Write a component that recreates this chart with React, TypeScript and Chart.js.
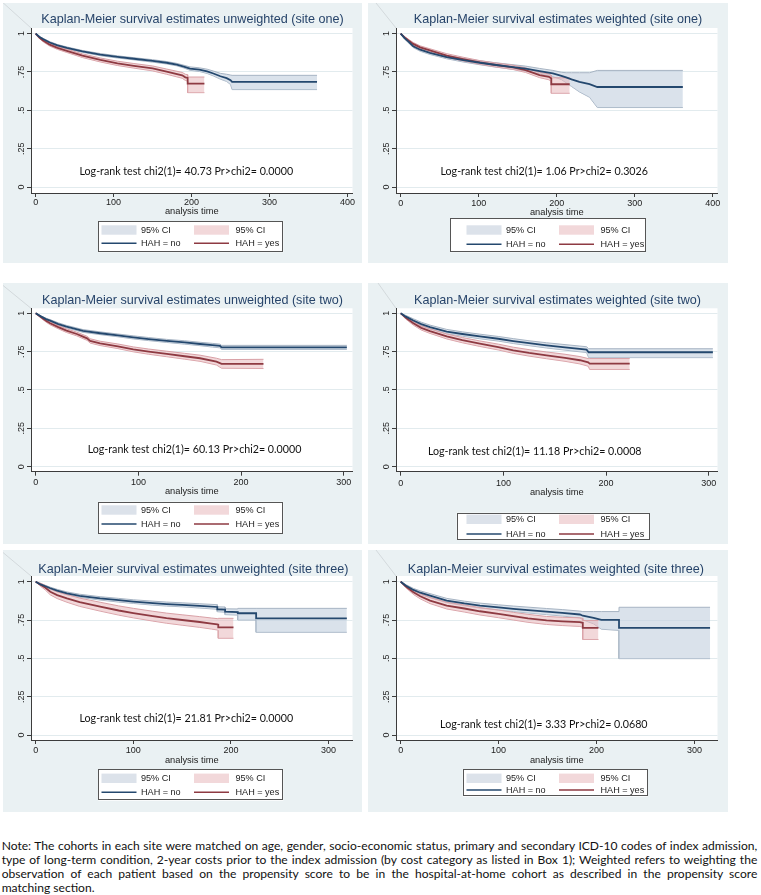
import React, { useEffect, useMemo, useRef } from 'react';
import { Chart, registerables } from 'chart.js';

Chart.register(...registerables);

// ---------------- text ----------------
const panelTitles = [
  'Kaplan-Meier survival estimates unweighted (site one)',
  'Kaplan-Meier survival estimates weighted (site one)',
  'Kaplan-Meier survival estimates unweighted (site two)',
  'Kaplan-Meier survival estimates weighted (site two)',
  'Kaplan-Meier survival estimates unweighted (site three)',
  'Kaplan-Meier survival estimates weighted (site three)',
];
const logRankTexts = [
  'Log-rank test chi2(1)= 40.73 Pr>chi2= 0.0000',
  'Log-rank test chi2(1)= 1.06 Pr>chi2= 0.3026',
  'Log-rank test chi2(1)= 60.13 Pr>chi2= 0.0000',
  'Log-rank test chi2(1)= 11.18 Pr>chi2= 0.0008',
  'Log-rank test chi2(1)= 21.81 Pr>chi2= 0.0000',
  'Log-rank test chi2(1)= 3.33 Pr>chi2= 0.0680',
];
const seriesLabels = ['HAH = no', 'HAH = yes'];
const ciLabel = '95% CI';
const xAxisTitle = 'analysis time';
const xTicksSiteOne = [0, 100, 200, 300, 400];
const xTicksOther = [0, 100, 200, 300];
const yTickValues = [0, 0.25, 0.5, 0.75, 1];
const yTickLabels = ['0', '.25', '.5', '.75', '1'];
const noteLines = [
  'Note: The cohorts in each site were matched on age, gender, socio-economic status, primary and secondary ICD-10 codes of index admission,',
  'type of long-term condition, 2-year costs prior to the index admission (by cost category as listed in Box 1); Weighted refers to weighting the',
  'observation of each patient based on the propensity score to be in the hospital-at-home cohort as described in the propensity score',
  'matching section.',
];

// ---------------- data: panel 1 (unweighted, site one) ----------------
const p1NoT = [0, 5, 10, 18, 28, 40, 60, 83, 105, 126, 150, 168, 181, 190, 198, 210, 220, 228, 237, 245, 250, 252, 361];
const p1NoS = [1, .978, .963, .942, .923, .907, .884, .863, .848, .836, .822, .81, .798, .785, .772, .765, .754, .74, .722, .71, .696, .685, .685];
const p1NoLo = [1, .974, .958, .936, .917, .901, .878, .856, .841, .829, .814, .802, .79, .776, .761, .753, .74, .724, .703, .688, .668, .635, .635];
const p1NoHi = [1, .982, .968, .948, .929, .913, .89, .87, .855, .843, .83, .818, .806, .794, .783, .777, .768, .756, .741, .735, .73, .728, .728];
const p1YesT = [0, 5, 10, 18, 28, 40, 60, 83, 105, 126, 150, 168, 188, 192, 195, 195, 216.5];
const p1YesS = [1, .973, .953, .928, .907, .888, .856, .828, .806, .79, .773, .752, .728, .715, .711, .674, .674];
const p1YesLo = [1, .967, .945, .919, .897, .877, .844, .815, .792, .775, .757, .735, .709, .695, .69, .615, .615];
const p1YesHi = [1, .979, .961, .937, .917, .899, .868, .841, .82, .805, .789, .769, .747, .735, .732, .717, .717];

// ---------------- data: panel 2 (weighted, site one) ----------------
const p2NoT = [0, 5, 10, 16, 25, 37.5, 59, 80, 101.5, 120, 144, 160, 178, 195, 206, 212, 219, 229, 242, 252, 361.6];
const p2NoS = [1, .97, .948, .918, .895, .875, .847, .827, .81, .797, .782, .772, .756, .74, .725, .715, .702, .685, .67, .652, .652];
const p2NoLo = [1, .963, .94, .909, .885, .864, .836, .815, .797, .783, .767, .756, .739, .72, .7, .68, .655, .62, .585, .518, .518];
const p2NoHi = [1, .977, .956, .927, .905, .886, .858, .839, .823, .811, .797, .788, .773, .76, .748, .745, .745, .745, .745, .76, .76];
const p2YesT = [0, 5, 10, 16, 25, 37.5, 59, 80, 101.5, 120, 144, 160, 178, 190, 193, 193, 216.6];
const p2YesS = [1, .975, .955, .933, .91, .89, .857, .834, .812, .797, .78, .762, .73, .718, .708, .67, .67];
const p2YesLo = [1, .969, .947, .924, .9, .879, .845, .822, .8, .784, .766, .747, .713, .699, .688, .611, .611];
const p2YesHi = [1, .981, .963, .942, .92, .901, .869, .846, .824, .81, .794, .777, .747, .737, .728, .712, .712];

// ---------------- data: panel 3 (unweighted, site two) ----------------
const p3NoT = [0, 5, 10, 14, 22, 30, 46, 62.7, 80, 95, 110, 127.6, 145, 160, 172, 179.5, 181, 303];
const p3NoS = [1, .98, .962, .952, .93, .913, .885, .87, .856, .843, .832, .82, .81, .8, .792, .787, .778, .778];
const p3NoLo = [1, .976, .956, .945, .922, .905, .876, .861, .847, .833, .822, .81, .799, .789, .78, .775, .765, .765];
const p3NoHi = [1, .984, .968, .959, .938, .921, .894, .879, .865, .853, .842, .83, .821, .811, .804, .799, .791, .791];
const p3YesT = [0, 5, 10, 14, 22, 30, 40, 46, 50, 53, 62.7, 80, 95, 110, 127.6, 145, 160, 176, 181, 221.8];
const p3YesS = [1, .975, .952, .935, .91, .887, .865, .848, .837, .82, .804, .785, .765, .75, .735, .72, .707, .685, .67, .67];
const p3YesLo = [1, .969, .943, .925, .899, .875, .853, .835, .824, .806, .79, .77, .749, .733, .717, .701, .687, .663, .642, .64];
const p3YesHi = [1, .981, .961, .945, .921, .899, .877, .861, .85, .834, .818, .8, .781, .767, .753, .739, .727, .707, .698, .7];

// ---------------- data: panel 4 (weighted, site two) ----------------
const p4NoT = [0, 5, 12.3, 20, 28.5, 44.8, 60, 77, 95, 109.6, 125, 142, 160, 181, 183, 304];
const p4NoS = [1, .978, .953, .93, .91, .881, .865, .849, .834, .819, .805, .791, .778, .763, .746, .746];
const p4NoLo = [1, .97, .942, .918, .897, .867, .851, .834, .819, .803, .789, .774, .76, .744, .711, .711];
const p4NoHi = [1, .986, .964, .942, .923, .895, .879, .864, .849, .835, .821, .808, .796, .782, .769, .769];
const p4YesT = [0, 5, 12.3, 20, 28.5, 44.8, 60, 77, 95, 109.6, 125, 142, 160, 174.5, 182.6, 184, 223];
const p4YesS = [1, .97, .935, .905, .884, .849, .825, .802, .78, .759, .742, .726, .71, .694, .68, .672, .672];
const p4YesLo = [1, .962, .923, .891, .869, .833, .808, .784, .761, .739, .721, .704, .687, .67, .655, .634, .634];
const p4YesHi = [1, .978, .947, .919, .899, .865, .842, .82, .799, .779, .763, .748, .733, .718, .705, .705, .705];

// ---------------- data: panel 5 (unweighted, site three) ----------------
const p5NoT = [0, 5, 10, 15, 22, 32, 45, 66, 85, 100, 120, 134, 150, 168, 186, 186, 194, 194, 207, 207, 225.8, 225.8, 318.7];
const p5NoS = [1, .982, .97, .957, .942, .924, .908, .891, .879, .87, .86, .854, .849, .842, .835, .82, .818, .804, .802, .794, .794, .761, .761];
const p5NoLo = [1, .977, .964, .95, .934, .915, .898, .88, .867, .858, .847, .841, .836, .828, .82, .804, .801, .785, .782, .75, .75, .67, .67];
const p5NoHi = [1, .987, .976, .964, .95, .933, .918, .902, .891, .882, .873, .867, .862, .856, .85, .836, .835, .823, .822, .826, .826, .826, .826];
const p5YesT = [0, 5, 10, 15, 22, 32, 45, 66, 85, 100, 120, 134, 150, 168, 180, 186, 187, 187, 202.6];
const p5YesS = [1, .98, .96, .934, .912, .891, .866, .837, .812, .795, .775, .762, .75, .737, .727, .722, .72, .702, .702];
const p5YesLo = [1, .97, .945, .914, .89, .866, .839, .808, .782, .764, .743, .729, .716, .702, .691, .685, .682, .631, .631];
const p5YesHi = [1, .99, .975, .954, .934, .916, .893, .866, .842, .826, .807, .795, .784, .772, .763, .759, .758, .761, .761];

// ---------------- data: panel 6 (weighted, site three) ----------------
const p6NoT = [0, 5, 13, 20, 30, 47, 65, 81, 100, 115, 130, 149, 165, 183, 186, 197, 205, 223, 223, 316];
const p6NoS = [1, .975, .946, .928, .909, .877, .858, .844, .832, .823, .815, .805, .797, .786, .778, .764, .751, .751, .699, .699];
const p6NoLo = [1, .968, .936, .916, .896, .863, .843, .828, .815, .805, .796, .785, .776, .764, .751, .725, .69, .682, .498, .498];
const p6NoHi = [1, .982, .956, .94, .922, .891, .873, .86, .849, .841, .834, .825, .818, .808, .805, .805, .805, .805, .833, .833];
const p6YesT = [0, 5, 13, 20, 30, 47, 65, 81, 100, 115, 130, 149, 165, 183, 186, 186, 202];
const p6YesS = [1, .97, .931, .905, .877, .844, .825, .807, .79, .775, .761, .747, .741, .736, .732, .699, .699];
const p6YesLo = [1, .962, .917, .888, .857, .822, .802, .783, .765, .75, .735, .721, .714, .708, .703, .623, .623];
const p6YesHi = [1, .978, .945, .922, .897, .866, .848, .831, .815, .8, .787, .773, .768, .764, .761, .747, .747];

// ---------------- styles ----------------
const PANEL_BG = '#eaf1f3';
const GRID = '#e2ebee';
const AXIS = '#3c3c3c';
const TITLE = '#27446a';
const NAVY = '#24486e';
const MAROON = '#8e3a42';
const BLUE_FILL = 'rgba(196,208,222,0.62)';
const BLUE_EDGE = '#a7b4c3';
const RED_FILL = 'rgba(232,184,188,0.55)';
const RED_EDGE = '#d9a1a7';
const BLUE_SWATCH = '#dce2ea';
const RED_SWATCH = '#f2d8da';
const SANS = '"Liberation Sans", Arial, sans-serif';
const NOTE_FONT = 'Lato, "Open Sans", sans-serif';
const PLOT_LEFT = 28;
const PLOT_RIGHT = 349.5;

type Curve = { t: number[]; s: number[]; lo: number[]; hi: number[] };
type Layout = {
  left: number; top: number; w: number; h: number;
  xMin: number; xMax: number; yMin: number; yMax: number;
  plotTop: number; plotBottom: number;
  titleX: number; titleY: number; tickLabelY: number; axisTitleY: number;
  logX: number; logY: number; diag: [number, number];
  lg: { x: number; y: number; w: number; h: number; r1: number; r2: number };
};
type PanelSpec = { title: string; logRank: string; xTicks: number[]; no: Curve; yes: Curve; layout: Layout };

const LAYOUTS: Layout[] = [
  { left: 3, top: 3, w: 359, h: 260, xMin: -6, xMax: 406.5, yMin: -0.039, yMax: 1.0365, plotTop: 25, plotBottom: 190,
    titleX: 189.5, titleY: 17, tickLabelY: 199.3, axisTitleY: 208.7, logX: 183.3, logY: 168.7, diag: [-3, -3],
    lg: { x: 95.3, y: 218, w: 185, h: 31.3, r1: 227, r2: 240.3 } },
  { left: 368, top: 3, w: 360, h: 260, xMin: -6, xMax: 406, yMin: -0.039, yMax: 1.0365, plotTop: 25, plotBottom: 190,
    titleX: 190, titleY: 17, tickLabelY: 200.3, axisTitleY: 209.7, logX: 176.2, logY: 168.7, diag: [8, 0],
    lg: { x: 82, y: 215.3, w: 196, h: 34, r1: 227, r2: 241.3 } },
  { left: 3, top: 283, w: 359, h: 261, xMin: -4.6, xMax: 308.5, yMin: -0.0326, yMax: 1.0326, plotTop: 25.3, plotBottom: 188.7,
    titleX: 189.5, titleY: 17.7, tickLabelY: 199.3, axisTitleY: 208.7, logX: 191.5, logY: 166.3, diag: [-3, 0],
    lg: { x: 95.3, y: 218.7, w: 185, h: 31.6, r1: 227, r2: 241 } },
  { left: 368, top: 283, w: 360, h: 261, xMin: -4.6, xMax: 308.5, yMin: -0.0326, yMax: 1.0326, plotTop: 25.3, plotBottom: 188.7,
    titleX: 189.5, titleY: 17.7, tickLabelY: 200.3, axisTitleY: 209.7, logX: 166.7, logY: 168.7, diag: [10, 0],
    lg: { x: 88.7, y: 229.7, w: 192.6, h: 26.6, r1: 236.3, r2: 251 } },
  { left: 3, top: 550, w: 359, h: 262, xMin: -4.8, xMax: 324.5, yMin: -0.0326, yMax: 1.037, plotTop: 26, plotBottom: 190,
    titleX: 190.3, titleY: 19.3, tickLabelY: 201, axisTitleY: 210, logX: 183.3, logY: 168.3, diag: [-3, 0],
    lg: { x: 95.3, y: 219.3, w: 185, h: 31.4, r1: 228.3, r2: 242.3 } },
  { left: 368, top: 550, w: 360, h: 262, xMin: -4.8, xMax: 323.6, yMin: -0.0326, yMax: 1.037, plotTop: 26, plotBottom: 190,
    titleX: 187.8, titleY: 19.3, tickLabelY: 201, axisTitleY: 210, logX: 175.8, logY: 175, diag: [8, 0],
    lg: { x: 94.7, y: 219.3, w: 185, h: 27.4, r1: 228.3, r2: 240 } },
];

const PANELS: PanelSpec[] = [
  { title: panelTitles[0], logRank: logRankTexts[0], xTicks: xTicksSiteOne,
    no: { t: p1NoT, s: p1NoS, lo: p1NoLo, hi: p1NoHi }, yes: { t: p1YesT, s: p1YesS, lo: p1YesLo, hi: p1YesHi }, layout: LAYOUTS[0] },
  { title: panelTitles[1], logRank: logRankTexts[1], xTicks: xTicksSiteOne,
    no: { t: p2NoT, s: p2NoS, lo: p2NoLo, hi: p2NoHi }, yes: { t: p2YesT, s: p2YesS, lo: p2YesLo, hi: p2YesHi }, layout: LAYOUTS[1] },
  { title: panelTitles[2], logRank: logRankTexts[2], xTicks: xTicksOther,
    no: { t: p3NoT, s: p3NoS, lo: p3NoLo, hi: p3NoHi }, yes: { t: p3YesT, s: p3YesS, lo: p3YesLo, hi: p3YesHi }, layout: LAYOUTS[2] },
  { title: panelTitles[3], logRank: logRankTexts[3], xTicks: xTicksOther,
    no: { t: p4NoT, s: p4NoS, lo: p4NoLo, hi: p4NoHi }, yes: { t: p4YesT, s: p4YesS, lo: p4YesLo, hi: p4YesHi }, layout: LAYOUTS[3] },
  { title: panelTitles[4], logRank: logRankTexts[4], xTicks: xTicksOther,
    no: { t: p5NoT, s: p5NoS, lo: p5NoLo, hi: p5NoHi }, yes: { t: p5YesT, s: p5YesS, lo: p5YesLo, hi: p5YesHi }, layout: LAYOUTS[4] },
  { title: panelTitles[5], logRank: logRankTexts[5], xTicks: xTicksOther,
    no: { t: p6NoT, s: p6NoS, lo: p6NoLo, hi: p6NoHi }, yes: { t: p6YesT, s: p6YesS, lo: p6YesLo, hi: p6YesHi }, layout: LAYOUTS[5] },
];

let measureCtx: CanvasRenderingContext2D | null = null;
function fitFontSize(text: string, family: string, target: number): number {
  if (!measureCtx) measureCtx = document.createElement('canvas').getContext('2d');
  if (!measureCtx) return 12;
  measureCtx.font = `100px ${family}`;
  const w = measureCtx.measureText(text).width;
  return (100 * target) / w;
}

function makeDecor(spec: PanelSpec, logSize: number) {
  const L = spec.layout;
  return {
    id: 'kmDecor',
    beforeDraw(chart: any) {
      const { ctx, chartArea: a } = chart;
      ctx.save();
      ctx.fillStyle = PANEL_BG;
      ctx.fillRect(0, 0, chart.width, chart.height);
      // faint diagonal stroke seen in the source scan
      ctx.strokeStyle = '#d3d9dc';
      ctx.lineWidth = 1;
      ctx.beginPath();
      ctx.moveTo(L.diag[0], L.diag[1]);
      ctx.lineTo(a.left, a.top);
      ctx.stroke();
      ctx.fillStyle = '#ffffff';
      ctx.fillRect(a.left, a.top, a.right - a.left, a.bottom - a.top);
      ctx.restore();
    },
    afterDraw(chart: any) {
      const { ctx } = chart;
      const xs = chart.scales.x;
      const ys = chart.scales.y;
      ctx.save();
      // title
      ctx.fillStyle = TITLE;
      ctx.font = `12.6px ${SANS}`;
      ctx.textAlign = 'center';
      ctx.textBaseline = 'middle';
      ctx.fillText(spec.title, L.titleX, L.titleY);
      // y tick labels (rotated)
      ctx.fillStyle = '#222';
      ctx.font = `9px ${SANS}`;
      yTickValues.forEach((v, i) => {
        const py = ys.getPixelForValue(v);
        ctx.save();
        ctx.translate(18.7, py);
        ctx.rotate(-Math.PI / 2);
        ctx.textAlign = 'center';
        ctx.textBaseline = 'middle';
        ctx.fillText(yTickLabels[i], 0, 0);
        ctx.restore();
      });
      // x tick labels
      ctx.textAlign = 'center';
      ctx.textBaseline = 'middle';
      spec.xTicks.forEach((v) => {
        ctx.fillText(String(v), xs.getPixelForValue(v), L.tickLabelY);
      });
      // axis title
      ctx.font = `9.3px ${SANS}`;
      ctx.fillText(xAxisTitle, (chart.chartArea.left + chart.chartArea.right) / 2, L.axisTitleY);
      // log-rank
      ctx.fillStyle = '#111';
      ctx.font = `${logSize}px ${NOTE_FONT}`;
      ctx.fillText(spec.logRank, L.logX, L.logY);
      // legend
      const g = L.lg;
      ctx.fillStyle = '#ffffff';
      ctx.fillRect(g.x, g.y, g.w, g.h);
      ctx.strokeStyle = '#555';
      ctx.lineWidth = 1;
      ctx.strokeRect(Math.round(g.x) + 0.5, Math.round(g.y) + 0.5, Math.round(g.w) - 1, Math.round(g.h) - 1);
      const c1 = 98.5, c2 = 191, sw = 35, t1 = 138, t2 = 232.5;
      ctx.fillStyle = BLUE_SWATCH;
      ctx.fillRect(c1, g.r1 - 4.7, sw, 9.4);
      ctx.fillStyle = RED_SWATCH;
      ctx.fillRect(c2, g.r1 - 4.7, sw, 9.4);
      ctx.lineWidth = 1.6;
      ctx.strokeStyle = NAVY;
      ctx.beginPath(); ctx.moveTo(c1, g.r2); ctx.lineTo(c1 + sw, g.r2); ctx.stroke();
      ctx.strokeStyle = MAROON;
      ctx.beginPath(); ctx.moveTo(c2, g.r2); ctx.lineTo(c2 + sw, g.r2); ctx.stroke();
      ctx.fillStyle = '#222';
      ctx.font = `9.1px ${SANS}`;
      ctx.textAlign = 'left';
      ctx.fillText(ciLabel, t1, g.r1);
      ctx.fillText(ciLabel, t2, g.r1);
      ctx.fillText(seriesLabels[0], t1, g.r2);
      ctx.fillText(seriesLabels[1], t2, g.r2);
      ctx.restore();
    },
  };
}

const pts = (t: number[], v: number[]) => t.map((x, i) => ({ x, y: v[i] }));

function Panel({ spec, logSize }: { spec: PanelSpec; logSize: number }) {
  const ref = useRef<HTMLCanvasElement>(null);
  const L = spec.layout;
  useEffect(() => {
    if (!ref.current) return;
    const line = (data: any, color: string, width: number, extra: any = {}) => ({
      data, borderColor: color, borderWidth: width, pointRadius: 0, fill: false, tension: 0, ...extra,
    });
    const chart = new Chart(ref.current, {
      type: 'line',
      data: {
        datasets: [
          { label: seriesLabels[0], ...line(pts(spec.no.t, spec.no.s), NAVY, 1.8) },
          { label: seriesLabels[1], ...line(pts(spec.yes.t, spec.yes.s), MAROON, 1.8) },
          { label: ciLabel + ' yes upper', ...line(pts(spec.yes.t, spec.yes.hi), RED_EDGE, 1, { fill: '+1', backgroundColor: RED_FILL }) },
          { label: ciLabel + ' yes lower', ...line(pts(spec.yes.t, spec.yes.lo), RED_EDGE, 1) },
          { label: ciLabel + ' no upper', ...line(pts(spec.no.t, spec.no.hi), BLUE_EDGE, 1, { fill: '+1', backgroundColor: BLUE_FILL }) },
          { label: ciLabel + ' no lower', ...line(pts(spec.no.t, spec.no.lo), BLUE_EDGE, 1) },
        ],
      },
      options: {
        responsive: false,
        animation: false,
        devicePixelRatio: 1,
        events: [],
        layout: { padding: { top: L.plotTop, right: L.w - PLOT_RIGHT, left: 0, bottom: 0 } },
        plugins: { legend: { display: false }, title: { display: false }, tooltip: { enabled: false } },
        elements: { point: { radius: 0 }, line: { tension: 0 } },
        scales: {
          x: {
            type: 'linear', position: 'bottom', min: L.xMin, max: L.xMax,
            afterFit: (s: any) => { s.height = L.h - L.plotBottom; },
            afterBuildTicks: (s: any) => { s.ticks = spec.xTicks.map((v) => ({ value: v })); },
            grid: { drawOnChartArea: false, drawTicks: true, tickLength: 4, tickColor: AXIS, tickWidth: 1 },
            border: { display: true, color: AXIS, width: 1 },
            ticks: { display: false },
          },
          y: {
            type: 'linear', min: L.yMin, max: L.yMax,
            afterFit: (s: any) => { s.width = PLOT_LEFT; },
            afterBuildTicks: (s: any) => { s.ticks = yTickValues.map((v) => ({ value: v })); },
            grid: { color: GRID, lineWidth: 1, drawTicks: true, tickLength: 4, tickColor: AXIS, tickWidth: 1 },
            border: { display: true, color: AXIS, width: 1 },
            ticks: { display: false },
          },
        },
      } as any,
      plugins: [makeDecor(spec, logSize)],
    });
    return () => chart.destroy();
  }, [spec, logSize]);
  return (
    <canvas
      ref={ref}
      width={L.w}
      height={L.h}
      style={{ position: 'absolute', left: L.left, top: L.top, width: L.w, height: L.h }}
    />
  );
}

export default function App() {
  const logSize = useMemo(() => fitFontSize(logRankTexts[0], NOTE_FONT, 214), []);
  const noteSize = useMemo(() => fitFontSize(noteLines[0], NOTE_FONT, 748), []);
  return (
    <div style={{ position: 'absolute', left: 0, top: 0, width: 761, height: 895, background: '#fff', overflow: 'hidden' }}>
      {PANELS.map((p, i) => (
        <Panel key={i} spec={p} logSize={logSize} />
      ))}
      <div
        style={{
          position: 'absolute', left: 1.7, top: 839, width: 755.6,
          fontFamily: NOTE_FONT, fontSize: noteSize, lineHeight: '14px', color: '#111',
        }}
      >
        {noteLines.map((l, i) => (
          <div key={i} style={{ textAlign: 'justify', textAlignLast: i < noteLines.length - 1 ? 'justify' : 'left' } as any}>
            {l}
          </div>
        ))}
      </div>
    </div>
  );
}
